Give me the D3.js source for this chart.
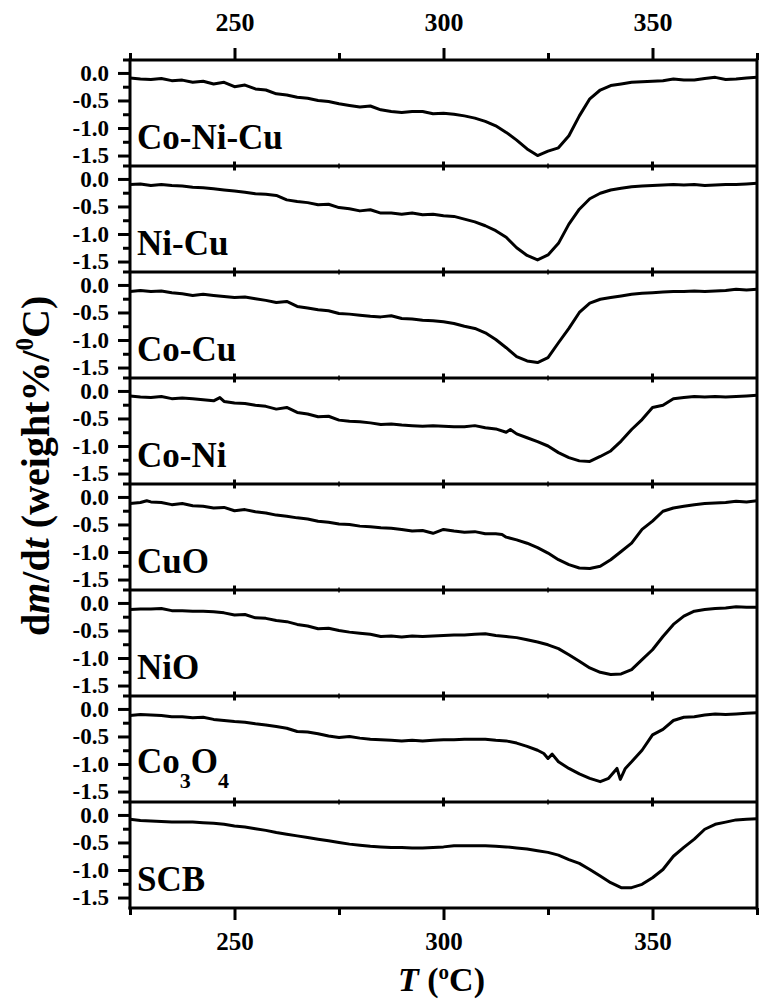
<!DOCTYPE html>
<html>
<head>
<meta charset="utf-8">
<script src="https://cdn.jsdelivr.net/npm/d3@7"></script>
<style>
  html, body { margin: 0; padding: 0; background: #fff; }
  svg { display: block; }
  text { font-family: "Liberation Serif", "Times New Roman", serif; font-weight: bold; fill: #000; }
</style>
</head>
<body>
<svg id="chart" width="759" height="1000"></svg>
<script>
// Temperature axis ticks
const xMajorTicks = [250, 300, 350];
const xMinorTicks = [225, 275, 325, 375];
// Rate axis ticks (per panel)
const yMajorTicks = [0, -0.5, -1.0, -1.5];
const yMinorTicks = [-0.25, -0.75, -1.25];

// Panel names, top to bottom
const samples = ["Co-Ni-Cu", "Ni-Cu", "Co-Cu", "Co-Ni", "CuO", "NiO", "Co3O4", "SCB"];

// DTG curves: [T (°C), dm/dt (weight%/°C)]
const coNiCu = [[225,-0.09],[227.5,-0.11],[230,-0.12],[232.5,-0.10],[235,-0.14],[237.5,-0.13],[240,-0.17],[242.5,-0.15],[245,-0.20],[247.5,-0.17],[250,-0.25],[252.5,-0.22],[255,-0.29],[257.5,-0.31],[260,-0.38],[262.5,-0.40],[265,-0.44],[267.5,-0.46],[270,-0.50],[272.5,-0.52],[275,-0.56],[277.5,-0.59],[280,-0.62],[282.5,-0.60],[285,-0.67],[287.5,-0.70],[290,-0.72],[292.5,-0.70],[295,-0.70],[297.5,-0.74],[300,-0.73],[302.5,-0.75],[305,-0.78],[307.5,-0.82],[310,-0.88],[312.5,-0.96],[315,-1.08],[317.5,-1.22],[320,-1.38],[322.5,-1.50],[325,-1.42],[327.5,-1.36],[330,-1.14],[332.5,-0.78],[335,-0.47],[337.5,-0.31],[340,-0.23],[342.5,-0.20],[345,-0.17],[347.5,-0.16],[350,-0.15],[352.5,-0.14],[355,-0.11],[357.5,-0.13],[360,-0.13],[362.5,-0.10],[365,-0.08],[367.5,-0.12],[370,-0.11],[372.5,-0.09],[375,-0.08]];
const niCu = [[225,-0.10],[227.5,-0.09],[230,-0.12],[232.5,-0.10],[235,-0.12],[237.5,-0.13],[240,-0.15],[242.5,-0.16],[245,-0.18],[247.5,-0.20],[250,-0.22],[252.5,-0.24],[255,-0.27],[257.5,-0.28],[260,-0.30],[262.5,-0.38],[265,-0.41],[267.5,-0.43],[270,-0.47],[272.5,-0.46],[275,-0.52],[277.5,-0.54],[280,-0.58],[282.5,-0.56],[285,-0.62],[287.5,-0.62],[290,-0.64],[292.5,-0.62],[295,-0.65],[297.5,-0.64],[300,-0.67],[302.5,-0.68],[305,-0.73],[307.5,-0.78],[310,-0.85],[312.5,-0.94],[315,-1.06],[317.5,-1.25],[320,-1.39],[322.5,-1.47],[325,-1.38],[327.5,-1.17],[330,-0.82],[332.5,-0.55],[335,-0.36],[337.5,-0.26],[340,-0.20],[342.5,-0.17],[345,-0.14],[347.5,-0.13],[350,-0.12],[352.5,-0.11],[355,-0.10],[357.5,-0.11],[360,-0.10],[362.5,-0.12],[365,-0.11],[367.5,-0.10],[370,-0.10],[372.5,-0.09],[375,-0.08]];
const coCu = [[225,-0.12],[227.5,-0.10],[230,-0.12],[232.5,-0.11],[235,-0.14],[237.5,-0.16],[240,-0.19],[242.5,-0.17],[245,-0.19],[247.5,-0.21],[250,-0.23],[252.5,-0.22],[255,-0.25],[257.5,-0.28],[260,-0.32],[262.5,-0.30],[265,-0.39],[267.5,-0.42],[270,-0.45],[272.5,-0.47],[275,-0.52],[277.5,-0.53],[280,-0.55],[282.5,-0.57],[285,-0.58],[287.5,-0.56],[290,-0.61],[292.5,-0.62],[295,-0.64],[297.5,-0.65],[300,-0.67],[302.5,-0.70],[305,-0.75],[307.5,-0.79],[310,-0.87],[312.5,-0.99],[315,-1.14],[317.5,-1.30],[320,-1.38],[322.5,-1.41],[325,-1.32],[327.5,-1.05],[330,-0.79],[332.5,-0.50],[335,-0.33],[337.5,-0.26],[340,-0.23],[342.5,-0.20],[345,-0.17],[347.5,-0.15],[350,-0.14],[352.5,-0.13],[355,-0.12],[357.5,-0.12],[360,-0.11],[362.5,-0.12],[365,-0.11],[367.5,-0.10],[370,-0.08],[372.5,-0.09],[375,-0.08]];
const coNi = [[225,-0.09],[227.5,-0.11],[230,-0.12],[232.5,-0.10],[235,-0.14],[237.5,-0.13],[240,-0.14],[242.5,-0.16],[245,-0.18],[246.5,-0.12],[247.5,-0.19],[250,-0.22],[252.5,-0.23],[255,-0.26],[257.5,-0.28],[260,-0.33],[262.5,-0.30],[265,-0.39],[267.5,-0.42],[270,-0.47],[272.5,-0.46],[275,-0.53],[277.5,-0.55],[280,-0.56],[282.5,-0.58],[285,-0.61],[287.5,-0.60],[290,-0.62],[292.5,-0.63],[295,-0.64],[297.5,-0.63],[300,-0.64],[302.5,-0.65],[305,-0.65],[307.5,-0.63],[310,-0.67],[312.5,-0.69],[315,-0.75],[316,-0.70],[317.5,-0.78],[320,-0.85],[322.5,-0.92],[325,-1.00],[327.5,-1.12],[330,-1.21],[332.5,-1.27],[335,-1.28],[337.5,-1.19],[340,-1.09],[342.5,-0.91],[345,-0.70],[347.5,-0.52],[350,-0.30],[352.5,-0.26],[355,-0.14],[357.5,-0.12],[360,-0.10],[362.5,-0.11],[365,-0.10],[367.5,-0.11],[370,-0.10],[372.5,-0.09],[375,-0.08]];
const cuO = [[225,-0.12],[227.5,-0.10],[229,-0.07],[230,-0.09],[232.5,-0.10],[235,-0.14],[237.5,-0.12],[240,-0.16],[242.5,-0.17],[245,-0.20],[247.5,-0.19],[250,-0.25],[252.5,-0.23],[255,-0.27],[257.5,-0.29],[260,-0.33],[262.5,-0.35],[265,-0.38],[267.5,-0.40],[270,-0.44],[272.5,-0.46],[275,-0.49],[277.5,-0.50],[280,-0.53],[282.5,-0.54],[285,-0.56],[287.5,-0.57],[290,-0.59],[292.5,-0.62],[295,-0.61],[297.5,-0.66],[300,-0.59],[302.5,-0.62],[305,-0.64],[307.5,-0.63],[310,-0.67],[312.5,-0.67],[314,-0.68],[315,-0.73],[317.5,-0.78],[320,-0.84],[322.5,-0.92],[325,-1.02],[327.5,-1.14],[330,-1.23],[332.5,-1.29],[335,-1.30],[337.5,-1.26],[340,-1.14],[342.5,-0.99],[345,-0.84],[347.5,-0.59],[350,-0.44],[352.5,-0.26],[355,-0.20],[357.5,-0.17],[360,-0.14],[362.5,-0.12],[365,-0.11],[367.5,-0.10],[370,-0.08],[372.5,-0.09],[375,-0.07]];
const niO = [[225,-0.12],[227.5,-0.11],[230,-0.11],[232.5,-0.10],[235,-0.14],[237.5,-0.14],[240,-0.15],[242.5,-0.15],[245,-0.16],[247.5,-0.18],[250,-0.22],[252.5,-0.21],[255,-0.27],[257.5,-0.28],[260,-0.32],[262.5,-0.34],[265,-0.39],[267.5,-0.42],[270,-0.47],[272.5,-0.46],[275,-0.50],[277.5,-0.53],[280,-0.55],[282.5,-0.57],[285,-0.61],[287.5,-0.60],[290,-0.62],[292.5,-0.60],[295,-0.61],[297.5,-0.60],[300,-0.59],[302.5,-0.58],[305,-0.58],[307.5,-0.57],[310,-0.56],[312.5,-0.59],[315,-0.61],[317.5,-0.63],[320,-0.67],[322.5,-0.71],[325,-0.76],[327.5,-0.83],[330,-0.94],[332.5,-1.06],[335,-1.18],[337.5,-1.26],[340,-1.30],[342.5,-1.29],[345,-1.21],[347.5,-1.03],[350,-0.85],[352.5,-0.61],[355,-0.39],[357.5,-0.24],[360,-0.15],[362.5,-0.12],[365,-0.10],[367.5,-0.09],[370,-0.07],[372.5,-0.08],[375,-0.08]];
const co3O4 = [[225,-0.12],[227.5,-0.10],[230,-0.11],[232.5,-0.12],[235,-0.14],[237.5,-0.14],[240,-0.16],[242.5,-0.15],[245,-0.19],[247.5,-0.21],[250,-0.23],[252.5,-0.24],[255,-0.27],[257.5,-0.29],[260,-0.32],[262.5,-0.35],[265,-0.41],[267.5,-0.42],[270,-0.45],[272.5,-0.49],[275,-0.52],[277.5,-0.50],[280,-0.53],[282.5,-0.55],[285,-0.56],[287.5,-0.57],[290,-0.58],[292.5,-0.57],[295,-0.58],[297.5,-0.57],[300,-0.56],[302.5,-0.56],[305,-0.55],[307.5,-0.55],[310,-0.55],[312.5,-0.57],[315,-0.58],[317.5,-0.62],[320,-0.68],[322.5,-0.75],[324,-0.81],[325,-0.90],[326,-0.82],[327.5,-0.96],[330,-1.08],[332.5,-1.18],[335,-1.26],[337.5,-1.32],[339.5,-1.26],[341.5,-1.08],[342.3,-1.28],[343.5,-1.08],[345,-0.96],[347.5,-0.75],[350,-0.47],[352.5,-0.37],[355,-0.21],[357.5,-0.15],[360,-0.14],[362.5,-0.11],[365,-0.09],[367.5,-0.10],[370,-0.09],[372.5,-0.08],[375,-0.07]];
const scb = [[225,-0.08],[227.5,-0.10],[230,-0.11],[232.5,-0.12],[235,-0.13],[237.5,-0.13],[240,-0.13],[242.5,-0.14],[245,-0.15],[247.5,-0.17],[250,-0.20],[252.5,-0.22],[255,-0.25],[257.5,-0.28],[260,-0.32],[262.5,-0.35],[265,-0.38],[267.5,-0.41],[270,-0.44],[272.5,-0.47],[275,-0.50],[277.5,-0.53],[280,-0.55],[282.5,-0.57],[285,-0.58],[287.5,-0.59],[290,-0.59],[292.5,-0.60],[295,-0.60],[297.5,-0.59],[300,-0.58],[302.5,-0.56],[305,-0.56],[307.5,-0.56],[310,-0.56],[312.5,-0.57],[315,-0.58],[317.5,-0.60],[320,-0.62],[322.5,-0.65],[325,-0.68],[327.5,-0.73],[330,-0.81],[332.5,-0.88],[335,-0.99],[337.5,-1.11],[340,-1.23],[342.5,-1.32],[345,-1.32],[347.5,-1.26],[350,-1.14],[352.5,-0.99],[355,-0.75],[357.5,-0.59],[360,-0.44],[362.5,-0.26],[365,-0.17],[367.5,-0.13],[370,-0.09],[372.5,-0.08],[375,-0.07]];

const curves = [coNiCu, niCu, coCu, coNi, cuO, niO, co3O4, scb];

// ---- layout ----
const svg = d3.select("#chart");
const plotLeft = 130, plotRight = 757, plotTop = 60, plotBottom = 908;
const nPanels = samples.length;
const panelH = (plotBottom - plotTop) / nPanels;
const STROKE = 3;

const x = d3.scaleLinear().domain([225, 375]).range([plotLeft, plotRight]);
const y = d3.scaleLinear().domain([-1.69, 0.235]).range([panelH, 0]);

const fmt = d => d.toFixed(1);
const line = d3.line().x(d => x(d[0])).y(d => y(d[1]));

function styleAxis(g, fontSize) {
  g.select(".domain").remove();
  g.selectAll(".tick line").attr("stroke", "#000").attr("stroke-width", STROKE);
  g.selectAll(".tick text")
    .attr("font-family", '"Liberation Serif", "Times New Roman", serif')
    .attr("font-weight", "bold")
    .attr("font-size", fontSize)
    .attr("fill", "#000");
}

samples.forEach((name, i) => {
  const top = plotTop + i * panelH;
  const g = svg.append("g").attr("transform", `translate(0,${top})`);

  // y axis: major + minor ticks
  g.append("g").attr("transform", `translate(${plotLeft},0)`)
    .call(d3.axisLeft(y).tickValues(yMajorTicks).tickSize(12).tickPadding(9).tickFormat(fmt))
    .call(a => styleAxis(a, 23));
  g.append("g").attr("transform", `translate(${plotLeft},0)`)
    .call(d3.axisLeft(y).tickValues(yMinorTicks).tickSize(7).tickFormat(""))
    .call(a => styleAxis(a, 23));

  // curve
  g.append("path")
    .datum(curves[i])
    .attr("fill", "none")
    .attr("stroke", "#000")
    .attr("stroke-width", STROKE)
    .attr("stroke-linejoin", "round")
    .attr("d", line);

  // sample label
  const lab = g.append("text")
    .attr("x", 137)
    .attr("font-size", 35);
  if (name === "Co3O4") {
    lab.attr("y", 77);
    lab.append("tspan").text("Co");
    lab.append("tspan").attr("font-size", 22).attr("dy", 15).text("3");
    lab.append("tspan").attr("dy", -15).text("O");
    lab.append("tspan").attr("font-size", 22).attr("dy", 15).text("4");
  } else {
    lab.attr("y", 89).text(name);
  }

  // separator ticks on inner panel borders (both directions)
  if (i > 0) {
    g.selectAll("line.sep-major").data(xMajorTicks).join("line")
      .attr("x1", d => x(d)).attr("x2", d => x(d))
      .attr("y1", -4.5).attr("y2", 4.5)
      .attr("stroke", "#000").attr("stroke-width", STROKE);
    g.selectAll("line.sep-minor").data(xMinorTicks.slice(1, -1)).join("line")
      .attr("x1", d => x(d)).attr("x2", d => x(d))
      .attr("y1", -2.5).attr("y2", 2.5)
      .attr("stroke", "#000").attr("stroke-width", 1.5);
  }
});

// panel borders
d3.range(nPanels + 1).forEach(k => {
  const yy = plotTop + k * panelH;
  svg.append("line")
    .attr("x1", k === nPanels ? plotLeft - 1.5 : 123).attr("x2", plotRight)
    .attr("y1", yy).attr("y2", yy)
    .attr("stroke", "#000").attr("stroke-width", STROKE);
});
svg.append("line").attr("x1", plotLeft).attr("x2", plotLeft)
  .attr("y1", plotTop - 1.5).attr("y2", plotBottom + 1.5)
  .attr("stroke", "#000").attr("stroke-width", STROKE);
svg.append("line").attr("x1", plotRight).attr("x2", plotRight)
  .attr("y1", plotTop - 1.5).attr("y2", plotBottom + 1.5)
  .attr("stroke", "#000").attr("stroke-width", STROKE);

// top temperature axis
svg.append("g").attr("transform", `translate(0,${plotTop})`)
  .call(d3.axisTop(x).tickValues(xMajorTicks).tickSize(12).tickPadding(17).tickFormat(d3.format("d")))
  .call(a => styleAxis(a, 26));
svg.append("g").attr("transform", `translate(0,${plotTop})`)
  .call(d3.axisTop(x).tickValues(xMinorTicks).tickSize(7).tickFormat(""))
  .call(a => styleAxis(a, 26));

// bottom temperature axis
svg.append("g").attr("transform", `translate(0,${plotBottom})`)
  .call(d3.axisBottom(x).tickValues(xMajorTicks).tickSize(12).tickPadding(12).tickFormat(d3.format("d")))
  .call(a => styleAxis(a, 25));
svg.append("g").attr("transform", `translate(0,${plotBottom})`)
  .call(d3.axisBottom(x).tickValues(xMinorTicks).tickSize(7).tickFormat(""))
  .call(a => styleAxis(a, 25));

// x axis title: T (°C)
const xt = svg.append("text").attr("x", 398).attr("y", 991).attr("font-size", 34);
xt.append("tspan").attr("font-style", "italic").text("T");
xt.append("tspan").text(" (");
xt.append("tspan").attr("font-size", 21).attr("dy", -12).text("o");
xt.append("tspan").attr("dy", 12).text("C)");

// y axis title: dm/dt (weight%/0C)
const yt = svg.append("text")
  .attr("transform", "translate(49,636) rotate(-90)")
  .attr("font-size", 40);
yt.append("tspan").text("d");
yt.append("tspan").attr("font-style", "italic").text("m");
yt.append("tspan").text("/d");
yt.append("tspan").attr("font-style", "italic").text("t");
yt.append("tspan").text(" (weight%/");
yt.append("tspan").attr("font-size", 25).attr("dy", -16).text("0");
yt.append("tspan").attr("dy", 16).text("C)");
</script>
</body>
</html>
